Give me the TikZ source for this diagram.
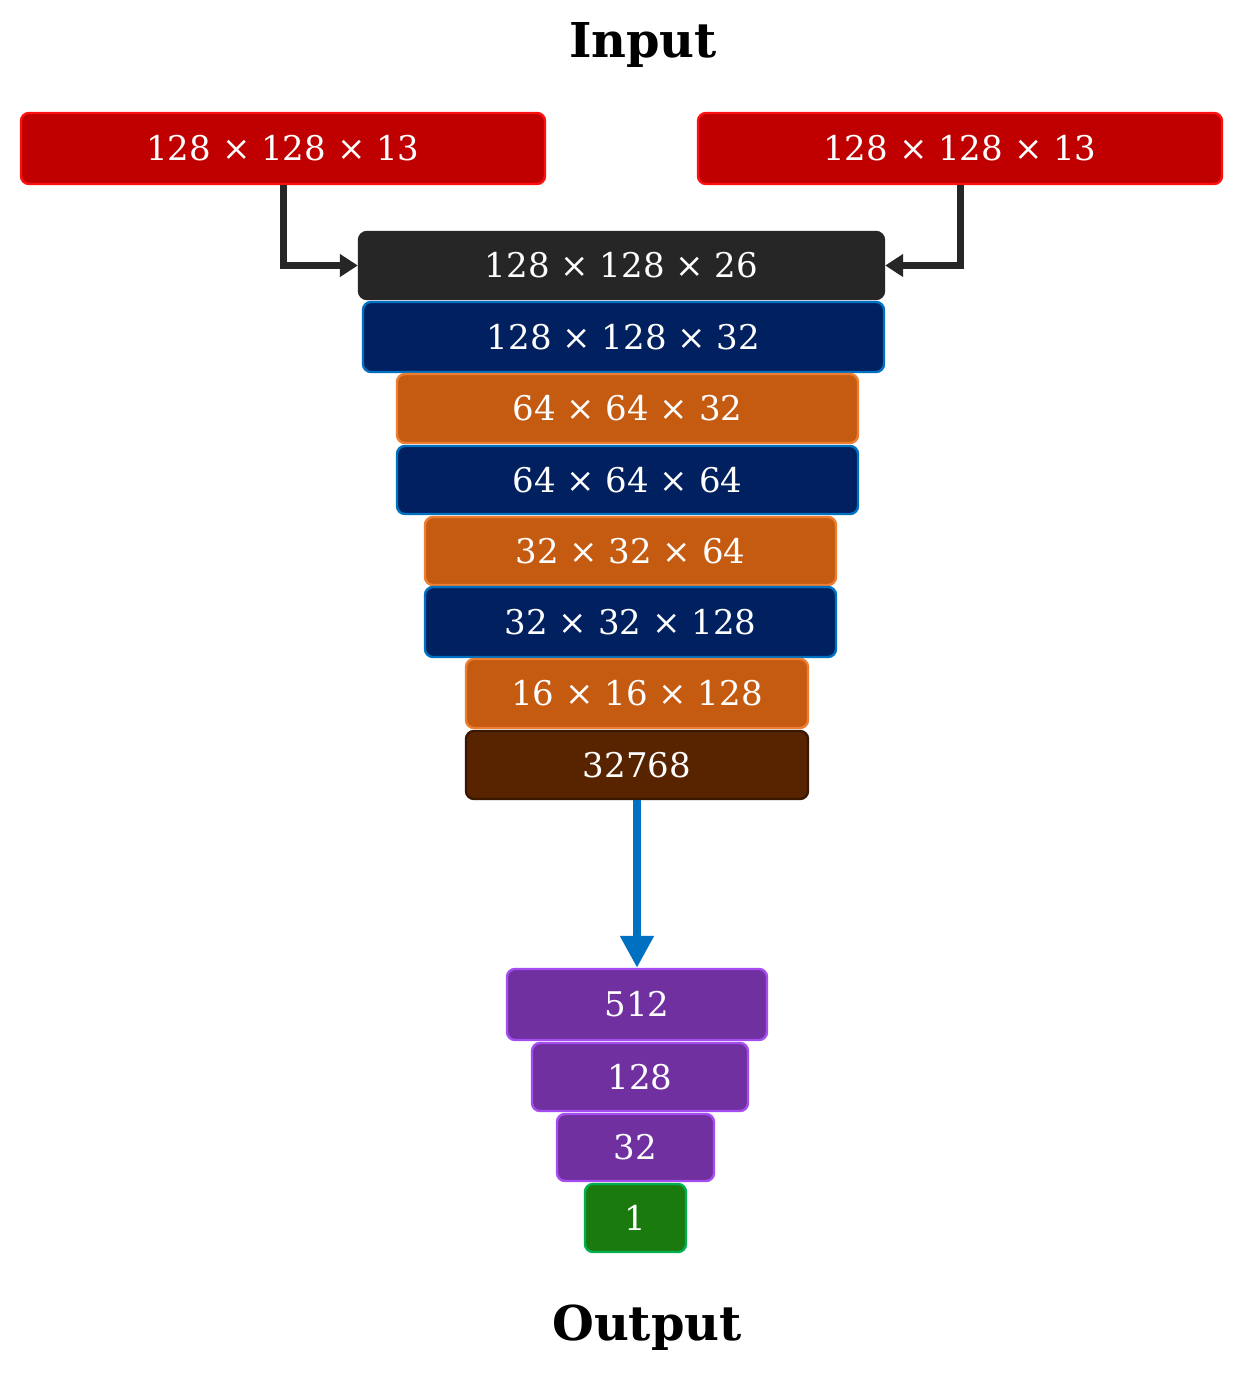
\documentclass[tikz,border=0pt]{standalone}
\usepackage{fontspec}
\setmainfont{DejaVu Serif}
\usetikzlibrary{arrows.meta}
\definecolor{redf}{HTML}{C00000}\definecolor{redb}{HTML}{FF1010}
\definecolor{blk}{HTML}{262626}
\definecolor{navy}{HTML}{002060}\definecolor{navyb}{HTML}{0070C0}
\definecolor{org}{HTML}{C55A11}\definecolor{orgb}{HTML}{ED7D31}
\definecolor{brn}{HTML}{582400}\definecolor{brnb}{HTML}{3A1800}
\definecolor{pur}{HTML}{7030A0}\definecolor{purb}{HTML}{A64DF0}
\definecolor{grn}{HTML}{1B7A0E}\definecolor{grnb}{HTML}{00B050}
\tikzset{
 box/.style={rounded corners=4pt,line width=1.2pt,inner sep=0pt,text=white,font=\fontsize{17}{20}\selectfont},
 title/.style={font=\fontsize{24}{28}\selectfont\bfseries},
 conn/.style={line width=3.5pt,draw=blk,-{Triangle[length=9pt,width=11pt]}},
}
\begin{document}
\begin{tikzpicture}[x=0.5pt,y=-0.5pt]
\useasboundingbox[fill=white] (0,0) rectangle (1242,1383);
\node[title] (in) at (643,45) {Input};
\node[title] (out) at (647,1328) {Output};
\node[box,fill=redf,draw=redb,minimum width=262pt,minimum height=35.5pt] (r1) at (283,148.5) {128 × 128 × 13};
\node[box,fill=redf,draw=redb,minimum width=262pt,minimum height=35.5pt] (r2) at (960,148.5) {128 × 128 × 13};
\node[box,fill=blk,draw=blk,minimum width=262.5pt,minimum height=33.5pt] (b0) at (621.5,265.5) {128 × 128 × 26};
\node[box,fill=navy,draw=navyb,minimum width=260.5pt,minimum height=35pt] (n1) at (623.5,337) {128 × 128 × 32};
\node[box,fill=org,draw=orgb,minimum width=230.5pt,minimum height=34.5pt] (o1) at (627.5,408.5) {64 × 64 × 32};
\node[box,fill=navy,draw=navyb,minimum width=230.5pt,minimum height=34pt] (n2) at (627.5,480) {64 × 64 × 64};
\node[box,fill=org,draw=orgb,minimum width=205.5pt,minimum height=34pt] (o2) at (630.5,551) {32 × 32 × 64};
\node[box,fill=navy,draw=navyb,minimum width=205.5pt,minimum height=35pt] (n3) at (630.5,622) {32 × 32 × 128};
\node[box,fill=org,draw=orgb,minimum width=171pt,minimum height=34.5pt] (o3) at (637,693.5) {16 × 16 × 128};
\node[box,fill=brn,draw=brnb,minimum width=171pt,minimum height=34pt] (br) at (637,765) {32768};
\node[box,fill=pur,draw=purb,minimum width=130pt,minimum height=35.5pt] (p1) at (637,1004.5) {512};
\node[box,fill=pur,draw=purb,minimum width=108pt,minimum height=34pt] (p2) at (640,1077) {128};
\node[box,fill=pur,draw=purb,minimum width=78.5pt,minimum height=33.5pt] (p3) at (635.5,1147.5) {32};
\node[box,fill=grn,draw=grnb,minimum width=50.5pt,minimum height=34pt] (g1) at (635.5,1218) {1};
\draw[conn] (r1.south) |- (b0.west);
\draw[conn] (r2.south) |- (b0.east);
\draw[line width=4pt,draw=navyb,-{Triangle[length=16pt,width=16pt]}] (br.south) -- (p1.north);
\end{tikzpicture}
\end{document}
